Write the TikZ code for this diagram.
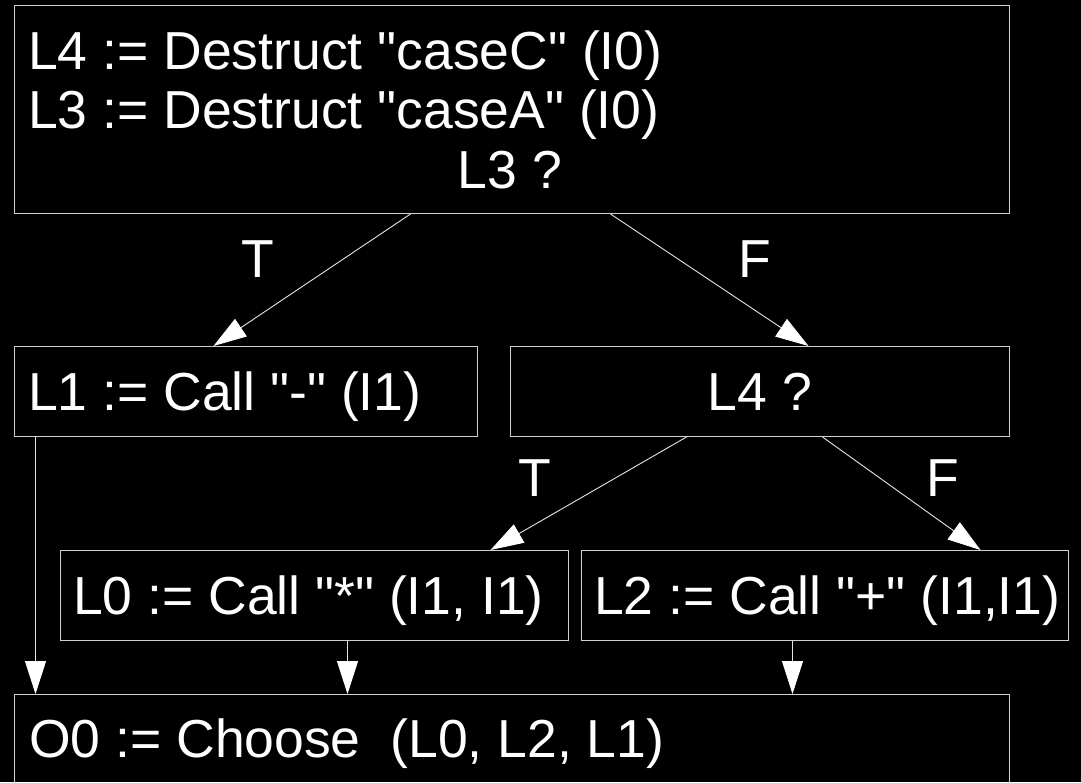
\documentclass[tikz,border=0pt]{standalone}
\usepackage{fontspec}
% no TeX ligatures, so " stays a straight double quote
\setmainfont{Liberation Sans}[Ligatures=TeXOff]
\usetikzlibrary{arrows.meta}
\begin{document}
\begin{tikzpicture}[x=1pt,y=-1pt,
  box/.style={draw=white!82!black,line width=1pt,inner sep=0pt,anchor=north west},
  txt/.style={text=white,inner sep=0pt,font=\fontsize{53.5}{60}\selectfont},
  arr/.style={draw=white!90!black,line width=0.9pt,
    -{Triangle[length=33pt,width=21pt,fill=white,color=white]}}]
  \useasboundingbox (0,0) rectangle (1081,782);
  \clip (0,0) rectangle (1081,782);
  \fill[black] (0,0) rectangle (1081,782);

  % boxes
  \node[box,minimum width=995pt,minimum height=208pt] (top) at (14,5) {};
  \node[box,minimum width=463pt,minimum height=90pt] (l1) at (14,346) {};
  \node[box,minimum width=499pt,minimum height=90pt] (l4q) at (510,346) {};
  \node[box,minimum width=508pt,minimum height=90pt] (l0) at (60,550) {};
  \node[box,minimum width=487pt,minimum height=90pt] (l2) at (581,550) {};
  \node[box,minimum width=995pt,minimum height=120pt] (o0) at (14,694) {};

  % texts
  \node[txt,anchor=base west] (t1) at (28,69) {L4 := Destruct "caseC" (I0)};
  \node[txt,anchor=base west] (t2) at (28,128) {L3 := Destruct "caseA" (I0)};
  \node[txt,anchor=base] (t3) at (510,188) {L3 ?};
  \node[txt,anchor=base west] (t4) at (28,410) {L1 := Call "-" (I1)};
  \node[txt,anchor=base] (t5) at (760,410) {L4 ?};
  \node[txt,anchor=base west] (t6) at (73,614) {L0 := Call "*" (I1, I1)};
  \node[txt,anchor=base west] (t7) at (594,614) {L2 := Call "+" (I1,I1)};
  \node[txt,anchor=base west] (t8) at (29,757) {O0 := Choose\ \ (L0, L2, L1)};

  % branch labels
  \node[txt,anchor=base] (lt1) at (258,277) {T};
  \node[txt,anchor=base] (lf1) at (755,277) {F};
  \node[txt,anchor=base] (lt2) at (535,496) {T};
  \node[txt,anchor=base] (lf2) at (943,496) {F};

  % connectors
  \draw[arr] ([xshift=-101.5pt]top.south) -- ([xshift=-32.5pt]l1.north);
  \draw[arr] ([xshift=98.5pt]top.south) -- ([xshift=48.5pt]l4q.north);
  \draw[arr] ([xshift=-73.5pt]l4q.south) -- ([xshift=176pt]l0.north);
  \draw[arr] ([xshift=62.5pt]l4q.south) -- ([xshift=155.5pt]l2.north);
  \draw[arr] ([xshift=-210.5pt]l1.south) -- ([xshift=-476.5pt]o0.north);
  \draw[arr] ([xshift=33pt]l0.south) -- ([xshift=-164.5pt]o0.north);
  \draw[arr] ([xshift=-32.5pt]l2.south) -- ([xshift=280.5pt]o0.north);
\end{tikzpicture}
\end{document}
